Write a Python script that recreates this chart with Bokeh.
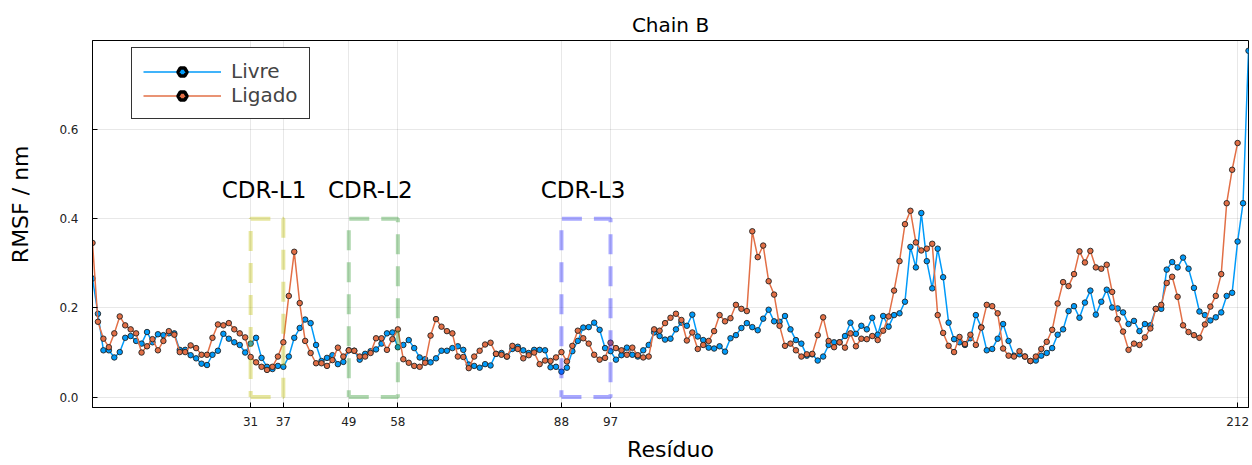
import numpy as np
from bokeh.plotting import figure
from bokeh.models import Range1d, FixedTicker, Legend, LegendItem, PrintfTickFormatter, ColumnDataSource, Title
from bokeh.embed import file_html
from bokeh.resources import INLINE
from bokeh.core.properties import value

# ---------------- data ----------------
residues_livre = list(range(2, 215))
rmsf_livre = [
    0.266, 0.187, 0.105, 0.105, 0.089, 0.101, 0.133, 0.137, 0.126, 0.120,   # 2-11
    0.146, 0.123, 0.141, 0.139, 0.143, 0.143, 0.106, 0.106, 0.094, 0.087,   # 12-21
    0.075, 0.072, 0.095, 0.104, 0.142, 0.131, 0.123, 0.117, 0.100, 0.120,   # 22-31
    0.133, 0.088, 0.068, 0.063, 0.070, 0.068, 0.091, 0.133, 0.155, 0.174,   # 32-41
    0.166, 0.117, 0.081, 0.088, 0.094, 0.074, 0.079, 0.105, 0.104, 0.084,   # 42-51
    0.097, 0.103, 0.107, 0.120, 0.143, 0.145, 0.112, 0.117, 0.128, 0.110,   # 52-61
    0.089, 0.085, 0.078, 0.087, 0.104, 0.104, 0.110, 0.114, 0.106, 0.073,   # 62-71
    0.070, 0.066, 0.074, 0.071, 0.097, 0.099, 0.091, 0.108, 0.113, 0.105,   # 72-81
    0.099, 0.106, 0.106, 0.105, 0.067, 0.068, 0.057, 0.066, 0.103, 0.126,   # 82-91
    0.156, 0.157, 0.167, 0.151, 0.110, 0.103, 0.084, 0.094, 0.111, 0.095,   # 92-101
    0.091, 0.105, 0.117, 0.145, 0.137, 0.129, 0.131, 0.152, 0.167, 0.160,   # 102-111
    0.185, 0.136, 0.128, 0.111, 0.109, 0.114, 0.102, 0.132, 0.139, 0.155,   # 112-121
    0.166, 0.157, 0.150, 0.176, 0.196, 0.170, 0.169, 0.182, 0.152, 0.128,   # 122-131
    0.120, 0.093, 0.096, 0.082, 0.091, 0.117, 0.123, 0.123, 0.137, 0.167,   # 132-141
    0.142, 0.160, 0.152, 0.178, 0.140, 0.182, 0.158, 0.184, 0.188, 0.214,   # 142-151
    0.337, 0.291, 0.413, 0.305, 0.244, 0.333, 0.269, 0.167, 0.130, 0.123,   # 152-161
    0.117, 0.132, 0.184, 0.157, 0.105, 0.108, 0.131, 0.164, 0.126, 0.093,   # 162-171
    0.096, 0.091, 0.081, 0.082, 0.093, 0.099, 0.110, 0.140, 0.152, 0.193,   # 172-181
    0.204, 0.178, 0.212, 0.239, 0.185, 0.214, 0.241, 0.201, 0.199, 0.190,   # 182-191
    0.164, 0.171, 0.148, 0.164, 0.161, 0.198, 0.198, 0.286, 0.303, 0.291,   # 192-201
    0.313, 0.288, 0.245, 0.192, 0.184, 0.172, 0.179, 0.190, 0.227, 0.234,   # 202-211
    0.349, 0.435, 0.777,                                                    # 212-214
]

residues_ligado = list(range(2, 213))
rmsf_ligado = [
    0.346, 0.169, 0.131, 0.112, 0.143, 0.181, 0.161, 0.152, 0.143, 0.100,   # 2-11
    0.114, 0.130, 0.105, 0.126, 0.148, 0.140, 0.101, 0.101, 0.116, 0.110,   # 12-21
    0.095, 0.095, 0.133, 0.163, 0.161, 0.166, 0.152, 0.143, 0.134, 0.090,   # 22-31
    0.078, 0.068, 0.061, 0.068, 0.091, 0.123, 0.227, 0.326, 0.211, 0.126,   # 32-41
    0.099, 0.076, 0.076, 0.070, 0.083, 0.111, 0.091, 0.105, 0.104, 0.091,   # 42-51
    0.091, 0.099, 0.132, 0.132, 0.106, 0.130, 0.152, 0.085, 0.077, 0.070,   # 52-61
    0.068, 0.077, 0.138, 0.175, 0.158, 0.148, 0.143, 0.091, 0.090, 0.065,   # 62-71
    0.091, 0.104, 0.118, 0.122, 0.097, 0.095, 0.091, 0.115, 0.108, 0.087,   # 72-81
    0.094, 0.100, 0.074, 0.082, 0.081, 0.089, 0.101, 0.080, 0.115, 0.149,   # 82-91
    0.132, 0.120, 0.095, 0.084, 0.088, 0.122, 0.110, 0.105, 0.095, 0.111,   # 92-101
    0.094, 0.089, 0.091, 0.152, 0.149, 0.166, 0.178, 0.187, 0.173, 0.127,   # 102-111
    0.145, 0.108, 0.117, 0.126, 0.148, 0.184, 0.170, 0.177, 0.207, 0.198,   # 112-121
    0.193, 0.372, 0.314, 0.340, 0.260, 0.230, 0.160, 0.115, 0.120, 0.105,   # 122-131
    0.091, 0.096, 0.097, 0.139, 0.179, 0.126, 0.112, 0.123, 0.111, 0.143,   # 132-141
    0.114, 0.131, 0.130, 0.137, 0.128, 0.149, 0.181, 0.239, 0.305, 0.388,   # 142-151
    0.418, 0.347, 0.329, 0.333, 0.344, 0.184, 0.144, 0.115, 0.101, 0.135,   # 152-161
    0.119, 0.140, 0.117, 0.156, 0.207, 0.204, 0.188, 0.109, 0.093, 0.091,   # 162-171
    0.103, 0.091, 0.081, 0.091, 0.108, 0.124, 0.151, 0.210, 0.258, 0.249,   # 172-181
    0.276, 0.327, 0.302, 0.328, 0.291, 0.288, 0.297, 0.236, 0.175, 0.147,   # 182-191
    0.106, 0.120, 0.117, 0.134, 0.154, 0.198, 0.207, 0.256, 0.270, 0.225,   # 192-201
    0.161, 0.146, 0.139, 0.133, 0.163, 0.203, 0.227, 0.276, 0.435, 0.510,   # 202-211
    0.570,                                                                  # 212
]

cdr_names = ["CDR-L1", "CDR-L2", "CDR-L3"]
cdr_start = [31, 49, 88]
cdr_end = [37, 58, 97]
cdr_bottom = 0.0
cdr_top = 0.4
cdr_colors = ["#bebe00", "#2a962a", "#1a1aff"]

x_ticks = [31, 37, 49, 58, 88, 97, 212]
y_ticks = [0.0, 0.2, 0.4, 0.6]

x_min, x_max = 2, 214
y_min, y_max = -0.0233, 0.800

series_names = ["Livre", "Ligado"]
series_colors = ["#009af9", "#e26f46"]

# ---------------- figure ----------------
FONT = "DejaVu Sans"
p = figure(width=1252, height=465, output_backend="svg", toolbar_location=None,
           x_range=Range1d(x_min, x_max), y_range=Range1d(y_min, y_max),
           min_border_left=92, min_border_right=4, min_border_top=40, min_border_bottom=58,
           title="Chain B")
p.title.align = "center"
p.title.text_font = FONT
p.title.text_font_size = "20px"
p.title.text_font_style = "normal"
p.title.text_color = "#000000"
p.title.standoff = 8

p.outline_line_color = "#000000"
p.outline_line_width = 1
p.outline_line_alpha = 1.0

for ax in (p.xaxis[0], p.yaxis[0]):
    ax.axis_line_color = "#000000"
    ax.major_tick_in = 5
    ax.major_tick_out = 0
    ax.minor_tick_in = 0
    ax.minor_tick_out = 0
    ax.major_tick_line_color = "#000000"
    ax.major_label_text_font = FONT
    ax.major_label_text_font_size = "12px"
    ax.major_label_text_color = "#222222"
    ax.axis_label_text_font = FONT
    ax.axis_label_text_font_style = "normal"
    ax.axis_label_text_color = "#000000"

p.xaxis.ticker = FixedTicker(ticks=x_ticks)
p.yaxis.ticker = FixedTicker(ticks=y_ticks)
p.yaxis.formatter = PrintfTickFormatter(format="%.1f")
p.xaxis.major_label_standoff = 9
p.yaxis.major_label_standoff = 14

p.xaxis.axis_label = "Resíduo"
p.xaxis.axis_label_text_font_size = "22px"
p.xaxis.axis_label_standoff = 8

# blank spacer label widens the y-axis panel so the title below sits further left
p.yaxis.axis_label = " "
p.yaxis.axis_label_text_font_size = "12px"
p.yaxis.axis_label_standoff = 4

ylab = Title(text="RMSF / nm", align="right", offset=105, standoff=6,
             text_font=FONT, text_font_size="22px", text_font_style="normal",
             text_color="#000000")
p.add_layout(ylab, "left")

p.xgrid.grid_line_color = "#000000"
p.xgrid.grid_line_alpha = 0.09
p.ygrid.grid_line_color = "#000000"
p.ygrid.grid_line_alpha = 0.09

# ---------------- series ----------------
legend_items = []
for name, xs, ys, col in [("Livre", residues_livre, rmsf_livre, series_colors[0]),
                          ("Ligado", residues_ligado, rmsf_ligado, series_colors[1])]:
    src = ColumnDataSource(dict(x=xs, y=ys))
    lr = p.line("x", "y", source=src, line_color=col, line_width=1.5)
    p.scatter("x", "y", source=src, marker="circle", size=5.5, fill_color=col,
              line_color="#222222", line_width=1, line_alpha=0.9)
    # off-screen point, used only to draw the hexagon in the legend
    dummy = p.scatter(x=[-1000], y=[-1000], marker="hex", angle=np.pi / 6, size=12,
                      fill_color=col, line_color="#000000", line_width=3.5)
    legend_items.append(LegendItem(label=name, renderers=[lr, dummy]))

# ---------------- CDR boxes ----------------
for name, s, e, col in zip(cdr_names, cdr_start, cdr_end, cdr_colors):
    p.line(x=[s, e, e, s, s], y=[cdr_bottom, cdr_bottom, cdr_top, cdr_top, cdr_bottom],
           line_color=col, line_alpha=0.38, line_width=4, line_dash="20 12")
    p.text(x=[(s + e) / 2], y=[0.464], text=[name], text_align="center",
           text_baseline="middle", text_font=value(FONT), text_font_size="23px",
           text_color="#000000", x_offset=-3)

legend = Legend(items=legend_items, location=(39, 288))
legend.label_text_font = FONT
legend.label_text_font_size = "20px"
legend.glyph_width = 78
legend.glyph_height = 23
legend.label_height = 23
legend.spacing = 0
legend.padding = 11
legend.label_standoff = 10
legend.border_line_color = "#000000"
legend.border_line_alpha = 0.8
legend.background_fill_alpha = 1.0
legend.margin = 0
p.add_layout(legend, "center")

open("out.html", "w").write(file_html(p, INLINE))
